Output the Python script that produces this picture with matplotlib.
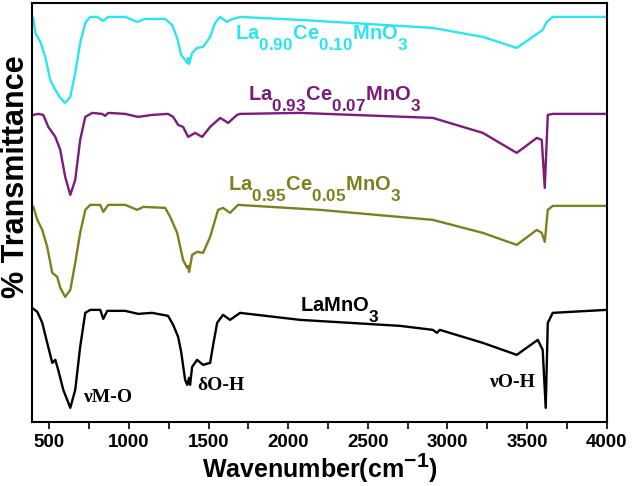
import matplotlib
matplotlib.use("Agg")
import matplotlib.pyplot as plt
from matplotlib.ticker import MultipleLocator
import matplotlib._mathtext as mt

plt.rcParams['font.family'] = ['Liberation Sans', 'DejaVu Sans']
plt.rcParams['mathtext.fontset'] = 'custom'
plt.rcParams['mathtext.rm'] = 'Liberation Sans:bold'
plt.rcParams['mathtext.bf'] = 'Liberation Sans:bold'
plt.rcParams['mathtext.default'] = 'bf'

# the figure's sub/superscripts are big and sit low
try:
    mt.SHRINK_FACTOR = 0.85
    mt.FontConstantsBase.sub1 = 1.0
except AttributeError:
    pass

# La0.90Ce0.10MnO3 (cyan)
wn_090 = [400, 412, 444, 475, 506, 538, 569, 600, 632, 663, 694, 726, 757, 801, 839, 870,
          977, 1052, 1102, 1228, 1271, 1303, 1328, 1353, 1366, 1372, 1378, 1397, 1428, 1466,
          1510, 1541, 1573, 1616, 1635, 1698, 2074, 2908, 3222, 3435, 3598, 3623, 3661, 4000]
t_090 = [404, 389, 380, 365, 342, 332, 324, 319, 325, 349, 379, 399, 405, 405, 401, 405,
         405, 400, 403, 403, 397, 384, 367, 362, 359, 364, 358, 369, 374, 375,
         385, 399, 405, 400, 402, 405, 402, 394, 385, 374, 392, 400, 405, 405]

# La0.93Ce0.07MnO3 (purple)
wn_093 = [400, 431, 462, 494, 538, 569, 600, 632, 663, 694, 726, 770, 832, 851, 870, 977,
          1058, 1146, 1246, 1278, 1309, 1340, 1372, 1416, 1460, 1510, 1573, 1623, 1679, 1698,
          2074, 2908, 3222, 3435, 3561, 3592, 3611, 3630, 3661, 4000]
t_093 = [307, 308, 307, 295, 285, 272, 245, 227, 242, 282, 305, 309, 308, 306, 309, 308,
         305, 307, 308, 305, 297, 295, 285, 289, 285, 295, 304, 299, 307, 308,
         309, 304, 289, 269, 284, 282, 234, 307, 308, 308]

# La0.95Ce0.05MnO3 (olive)
wn_095 = [400, 425, 456, 487, 519, 550, 569, 600, 632, 663, 694, 726, 757, 820, 839, 870,
          977, 1052, 1090, 1228, 1259, 1303, 1340, 1366, 1372, 1378, 1397, 1428, 1466, 1510,
          1560, 1591, 1635, 1685, 2200, 2908, 3222, 3435, 3561, 3592, 3611, 3630, 3661, 4000]
t_095 = [215, 202, 192, 175, 149, 145, 134, 125, 132, 159, 189, 212, 217, 217, 210, 217,
         217, 212, 215, 214, 205, 189, 162, 154, 156, 150, 167, 170, 169, 185,
         212, 214, 209, 217, 212, 202, 189, 177, 192, 189, 180, 212, 216, 216]

# LaMnO3 (black)
wn_lmo = [400, 425, 456, 487, 519, 538, 556, 588, 632, 663, 694, 726, 757, 820, 839, 864,
          977, 1058, 1146, 1246, 1278, 1309, 1328, 1353, 1366, 1378, 1384, 1397, 1428, 1466,
          1510, 1529, 1554, 1591, 1635, 1698, 2074, 2702, 2908, 2934, 2952, 3222, 3435, 3567,
          3598, 3617, 3630, 3661, 4000]
t_lmo = [113, 110, 99, 79, 59, 62, 52, 32, 14, 32, 75, 109, 112, 112, 103, 111,
         111, 108, 109, 106, 97, 85, 70, 42, 37, 44, 37, 55, 62, 57,
         59, 77, 99, 107, 102, 109, 102, 96, 92, 89, 92, 79, 67, 82,
         72, 14, 99, 109, 112]

fig = plt.figure(figsize=(6.32, 4.86), dpi=100)
ax = fig.add_axes([0.051, 0.132, 0.909, 0.862])

ax.plot(wn_090, t_090, color='#2ae6f2', lw=1.7)
ax.plot(wn_093, t_093, color='#7d1a7d', lw=1.7)
ax.plot(wn_095, t_095, color='#7f7f1c', lw=1.7)
ax.plot(wn_lmo, t_lmo, color='black', lw=1.7)

ax.text(1667, 383, r'La$_{0.90}$Ce$_{0.10}$MnO$_3$', color='#2ae6f2', fontsize=14.5, fontweight='bold')
ax.text(1748, 322, r'La$_{0.93}$Ce$_{0.07}$MnO$_3$', color='#7d1a7d', fontsize=14.5, fontweight='bold')
ax.text(1623, 232, r'La$_{0.95}$Ce$_{0.05}$MnO$_3$', color='#7f7f1c', fontsize=14.5, fontweight='bold')
ax.text(2074, 111, r'LaMnO$_3$', color='black', fontsize=14.5, fontweight='bold')

ax.text(713, 20, 'νM-O', family=['Liberation Serif'], fontweight='bold', fontsize=14)
ax.text(1428, 32, 'δO-H', family=['Liberation Serif'], fontweight='bold', fontsize=14)
ax.text(3548, 35, 'νO-H', family=['Liberation Serif'], fontweight='bold', fontsize=14, ha='right')

ax.set_xlim(393, 4000)
ax.set_ylim(0, 419)
ax.set_yticks([])
ax.xaxis.set_major_locator(MultipleLocator(500))
ax.xaxis.set_minor_locator(MultipleLocator(250))
ax.tick_params(axis='x', which='both', direction='out', length=5, width=1.2, labelsize=13.5, pad=4)
for lbl in ax.get_xticklabels():
    lbl.set_fontweight('bold')
for sp in ax.spines.values():
    sp.set_linewidth(1.5)

ax.set_xlabel(r'Wavenumber(cm$^{-1}$)', fontsize=18, fontweight='bold', labelpad=0)
ax.set_ylabel('% Transmittance', fontsize=22, fontweight='bold')
ax.yaxis.set_label_coords(-0.002, 0.585)

fig.savefig('out.png', dpi=100)
